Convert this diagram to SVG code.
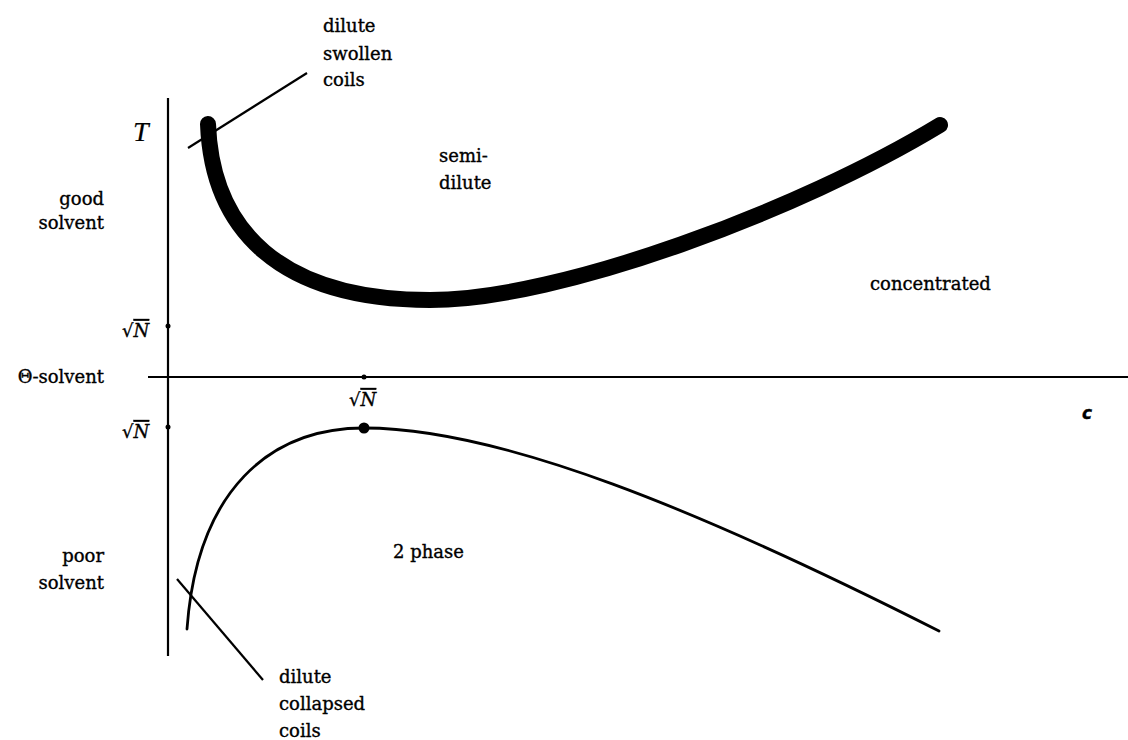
<svg xmlns="http://www.w3.org/2000/svg" width="1128" height="740" viewBox="0 0 1128 740">
<style>
text{font-family:"DejaVu Serif","Liberation Serif",serif;font-size:18px;fill:#000;stroke:#000;stroke-width:0.35}
.r{text-anchor:end}
.it{font-style:italic}
.ax{stroke:#000;stroke-width:2.2;fill:none}
.ptr{stroke:#000;stroke-width:2.2;fill:none}
.thick{stroke:#000;stroke-width:16;fill:none;stroke-linecap:round}
.thin{stroke:#000;stroke-width:2.8;fill:none;stroke-linecap:round}
.ov{text-decoration:overline}
</style>
<rect width="1128" height="740" fill="#fff"/>
<g id="axes">
<line class="ax" x1="168" y1="98" x2="168" y2="656"/>
<line class="ax" x1="148" y1="377" x2="1128" y2="377"/>
<circle cx="168" cy="326" r="2.5"/>
<circle cx="168" cy="427" r="2.5"/>
<circle cx="364" cy="377" r="2.5"/>
</g>
<g id="connectors">
<path id="crossover" class="thick" d="M208,124 C212,230 280,300 430,300 C560,300 800,210 940,125"/>
<path id="coexistence" class="thin" d="M187,629 C197,490 270,428 364,428 C500,428 700,510 939,631"/>
<line class="ptr" x1="188" y1="148" x2="307" y2="73"/>
<line class="ptr" x1="177" y1="579" x2="263" y2="680"/>
<circle cx="364" cy="428" r="5.5"/>
</g>
<g id="labels">
<text x="133" y="141" class="it" style="font-size:28px;font-family:'Liberation Serif',serif;stroke-width:0.2">T</text>
<text x="1082" y="419" class="it" style="font-family:'DejaVu Sans',sans-serif;font-weight:bold;font-size:17px">c</text>
<text class="r" x="104" y="205">good</text>
<text class="r" x="104" y="229">solvent</text>
<text class="r" x="104" y="383">Θ-solvent</text>
<text class="r" x="104" y="562">poor</text>
<text class="r" x="104" y="589">solvent</text>
<text x="122" y="337">√<tspan class="it ov">N</tspan></text>
<text x="122" y="438">√<tspan class="it ov">N</tspan></text>
<text x="349" y="406">√<tspan class="it ov">N</tspan></text>
<text x="323" y="32">dilute</text>
<text x="323" y="60">swollen</text>
<text x="323" y="86">coils</text>
<text x="439" y="162">semi-</text>
<text x="439" y="189">dilute</text>
<text x="870" y="290">concentrated</text>
<text x="393" y="558">2 phase</text>
<text x="279" y="683">dilute</text>
<text x="279" y="710">collapsed</text>
<text x="279" y="737">coils</text>
</g>
</svg>
